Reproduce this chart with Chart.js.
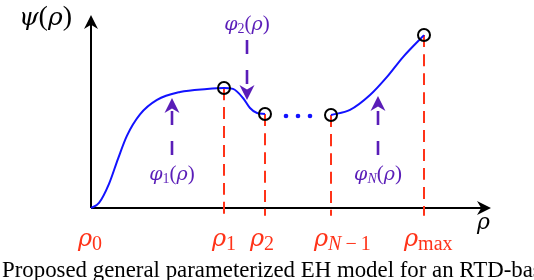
<!DOCTYPE html>
<html>
<head>
<meta charset="utf-8">
<script src="https://cdn.jsdelivr.net/npm/chart.js@4"></script>
<style>
html, body { margin: 0; padding: 0; background: #fff; }
#wrap { width: 534px; height: 280px; position: relative; }
</style>
</head>
<body>
<div id="wrap"><canvas id="myChart"></canvas></div>
<script>
// knots rho_0 .. rho_max and psi at each one
var rhoSubs = ["0", "1", "2", "N\u22121", "max"];
var rhoKnots = [0, 33.25, 43.5, 60, 83.25];
var psiKnots = [0, 62.2, 48.7, 48.2, 89.6];

// first pieces, rho_0 -> rho_2
var leftX = [0, 2, 4.5, 6.75, 9, 12.25, 16.5, 22.25, 29, 33.25, 35.5, 38, 39.75, 41.5, 43.5];
var leftY = [0, 2.6, 12.5, 25.5, 37.5, 48.5, 56, 60.1, 61.7, 62.2, 61.7, 57, 51.8, 49.2, 48.7];
// last piece, rho_N-1 -> rho_max
var rightX = [60, 64.75, 69.75, 74, 78, 83.25];
var rightY = [48.2, 50.8, 58.5, 67.9, 78.2, 89.6];
// dots in the gap
var dotsX = [48.75, 51.75, 54.75];
var dotsY = [47.7, 47.7, 47.7];

// arrows for phi_1, phi_2, phi_N
var phiSubs = ["1", "2", "N"];
var phiX = [20.25, 39, 71.75];
var phiFrom = [27.5, 87, 27.5];
var phiTo = [57, 56, 58];

var caption = "Proposed general parameterized EH model for an RTD-based rectenna";

var red = "#ff3319";
var blue = "#1212ff";
var purple = "#5a1db8";
var rhoLabelDx = [-13, -12, -15, -17, -20];

function pts(xs, ys) {
    return xs.map(function (x, i) { return {x: x, y: ys[i]}; });
}

var datasets = [
    {data: pts(rhoKnots.slice(1), psiKnots.slice(1)), showLine: false, pointRadius: 6,
     pointBorderWidth: 2, pointBorderColor: "#000", pointBackgroundColor: "rgba(0,0,0,0)", order: 0},
    {data: pts(leftX, leftY), showLine: true, borderColor: blue, borderWidth: 2, pointRadius: 0,
     cubicInterpolationMode: "monotone", order: 1},
    {data: pts(rightX, rightY), showLine: true, borderColor: blue, borderWidth: 2, pointRadius: 0,
     cubicInterpolationMode: "monotone", order: 1},
    {data: pts(dotsX, dotsY), showLine: false, pointRadius: 2.3, pointBorderWidth: 0,
     pointBackgroundColor: blue, order: 1}
];
for (var i = 1; i < rhoKnots.length; i++) {
    datasets.push({data: [{x: rhoKnots[i], y: psiKnots[i]}, {x: rhoKnots[i], y: -4}],
        showLine: true, borderColor: red, borderWidth: 2, borderDash: [12, 7], pointRadius: 0, order: 2});
}

function greek(s) { return "italic " + s + "px 'DejaVu Serif'"; }
function ital(s) { return "italic " + s + "px 'Liberation Serif'"; }
function roman(s) { return s + "px 'Liberation Serif'"; }

// parts: [text, font, dy]
function drawParts(ctx, parts, x, y, center) {
    var w = 0;
    parts.forEach(function (p) { ctx.font = p[1]; w += ctx.measureText(p[0]).width; });
    var cx = center ? x - w / 2 : x;
    parts.forEach(function (p) {
        ctx.font = p[1];
        ctx.fillText(p[0], cx, y + (p[2] || 0));
        cx += ctx.measureText(p[0]).width;
    });
}

function subParts(sub, size, dy) {
    // N is italic, digits / minus / max upright
    var out = [];
    sub.split(/(N|\u2212)/).forEach(function (s) {
        if (!s) return;
        if (s === "\u2212") s = "\u2009\u2212\u2009";
        out.push([s, s === "N" ? ital(size) : roman(size), dy]);
    });
    return out;
}

function arrowHead(ctx, tx, ty, dx, dy, len, hw) {
    var px = -dy, py = dx;
    var bx = tx - dx * len, by = ty - dy * len;
    ctx.beginPath();
    ctx.moveTo(tx, ty);
    ctx.lineTo(bx + px * hw, by + py * hw);
    ctx.lineTo(tx - dx * len * 0.7, ty - dy * len * 0.7);
    ctx.lineTo(bx - px * hw, by - py * hw);
    ctx.closePath();
    ctx.fill();
}

var sketch = {
    id: "sketch",
    beforeDatasetsDraw: function (chart) {
        var ctx = chart.ctx, a = chart.chartArea;
        var x0 = chart.scales.x.getPixelForValue(0), y0 = chart.scales.y.getPixelForValue(0);
        ctx.save();
        ctx.strokeStyle = "#000";
        ctx.fillStyle = "#000";
        ctx.lineWidth = 2;
        ctx.beginPath();
        ctx.moveTo(x0, y0);
        ctx.lineTo(x0, a.top + 8);
        ctx.moveTo(x0, y0);
        ctx.lineTo(a.right - 8, y0);
        ctx.stroke();
        arrowHead(ctx, x0, a.top, 0, -1, 14, 7);
        arrowHead(ctx, a.right, y0, 1, 0, 14, 7);
        ctx.restore();
    },
    afterDatasetsDraw: function (chart) {
        var ctx = chart.ctx, xs = chart.scales.x, ys = chart.scales.y;
        ctx.save();
        ctx.textBaseline = "alphabetic";

        // phi arrows
        ctx.strokeStyle = purple;
        ctx.fillStyle = purple;
        ctx.lineWidth = 2.6;
        for (var k = 0; k < phiX.length; k++) {
            var px = xs.getPixelForValue(phiX[k]);
            var yf = ys.getPixelForValue(phiFrom[k]), yt = ys.getPixelForValue(phiTo[k]);
            var dir = yt < yf ? -1 : 1;
            ctx.setLineDash([14, 16]);
            ctx.beginPath();
            ctx.moveTo(px, yf);
            ctx.lineTo(px, yt - dir * 10);
            ctx.stroke();
            ctx.setLineDash([]);
            arrowHead(ctx, px, yt, 0, dir, 15, 7.5);
            var ly = dir < 0 ? yf + 25 : yf - 10;
            var parts = [["\u03c6", greek(19), 0]].concat(subParts(phiSubs[k], 14, 3))
                .concat([["(", roman(21), 0], ["\u03c1", greek(19), 0], [")", roman(21), 0]]);
            drawParts(ctx, parts, px, ly, true);
        }

        // rho labels below the axis
        ctx.fillStyle = red;
        for (var j = 0; j < rhoKnots.length; j++) {
            var rx = xs.getPixelForValue(rhoKnots[j]) + rhoLabelDx[j];
            var rp = [["\u03c1", greek(24), 0]].concat(subParts(rhoSubs[j], 20, 4));
            drawParts(ctx, rp, rx, 246, false);
        }

        // axis names
        ctx.fillStyle = "#000";
        drawParts(ctx, [["\u03c1", greek(22), 0]], chart.chartArea.right - 14, 229, false);
        drawParts(ctx, [["\u03c8", greek(25), 0], ["(", roman(28), 0], ["\u03c1", greek(25), 0], [")", roman(28), 0]], 19, 25, false);
        ctx.restore();
    },
    afterDraw: function (chart) {
        var ctx = chart.ctx;
        ctx.save();
        ctx.fillStyle = "#000";
        ctx.font = roman(20);
        var w = ctx.measureText("Proposed general parameterized EH model for an RTD-ba").width;
        var size = 20 * 531 / w;
        ctx.font = roman(size);
        ctx.fillText(caption, 2, 277);
        ctx.restore();
    }
};

new Chart("myChart", {
    type: "scatter",
    data: {datasets: datasets},
    options: {
        responsive: true,
        maintainAspectRatio: false,
        animation: false,
        events: [],
        layout: {padding: {left: 91, right: 43, top: 15, bottom: 72}},
        scales: {
            x: {type: "linear", min: 0, max: 100, display: false},
            y: {type: "linear", min: 0, max: 100, display: false}
        },
        elements: {line: {tension: 0.4}},
        datasets: {scatter: {clip: false}},
        plugins: {legend: {display: false}, tooltip: {enabled: false}}
    },
    plugins: [sketch]
});
</script>
</body>
</html>
